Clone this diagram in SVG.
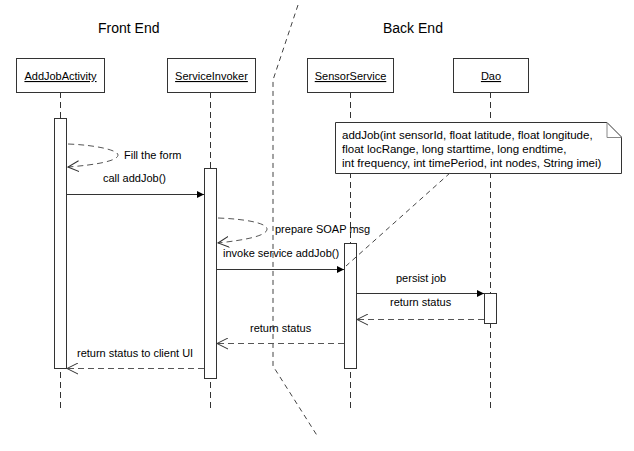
<svg xmlns="http://www.w3.org/2000/svg" width="634" height="451" viewBox="0 0 634 451">
<defs>
<marker id="filled" markerWidth="8" markerHeight="8" refX="7" refY="4" orient="auto" markerUnits="userSpaceOnUse">
<path d="M0,0.5 L7,4 L0,7.5 Z" fill="#000"/>
</marker>
<marker id="open" markerWidth="12" markerHeight="12" refX="11" refY="6" orient="auto" markerUnits="userSpaceOnUse">
<path d="M0,0.5 L11,6 L0,11.5" fill="none" stroke="#333" stroke-width="1"/>
</marker>
</defs>
<style>
text{font-family:"Liberation Sans",Arial,sans-serif;font-size:11px;fill:#000}
.title{font-size:14px}
.u{text-decoration:underline}
.note{font-size:11.5px}
.box{fill:#fff;stroke:#333;stroke-width:1}
.life{stroke:#333;stroke-width:1;stroke-dasharray:6,4;fill:none}
.msg{stroke:#333;stroke-width:1;fill:none}
.ret{stroke:#555;stroke-width:1;stroke-dasharray:6,4;fill:none}
.div{stroke:#444;stroke-width:1;stroke-dasharray:5,4;fill:none}
</style>
<rect width="634" height="451" fill="#fff"/>
<text class="title" x="98" y="33">Front End</text>
<text class="title" x="383" y="33">Back End</text>
<g id="divider"><polyline class="div" points="298,5 273,80 273,366 318,437"/></g>
<g id="lifelines">
<line class="life" x1="60.5" y1="92" x2="60.5" y2="410"/>
<line class="life" x1="210.5" y1="92" x2="210.5" y2="410"/>
<line class="life" x1="350.5" y1="92" x2="350.5" y2="410"/>
<line class="life" x1="490.5" y1="92" x2="490.5" y2="410"/>
</g>
<g id="AddJobActivity"><rect class="box" x="16.5" y="58.5" width="88" height="34"/><text class="u" x="60.5" y="80" text-anchor="middle">AddJobActivity</text></g>
<g id="ServiceInvoker"><rect class="box" x="167.5" y="58.5" width="88" height="34"/><text class="u" x="211.5" y="80" text-anchor="middle">ServiceInvoker</text></g>
<g id="SensorService"><rect class="box" x="307.5" y="58.5" width="86" height="34"/><text class="u" x="350.5" y="80" text-anchor="middle">SensorService</text></g>
<g id="Dao"><rect class="box" x="453.5" y="58.5" width="75" height="34"/><text class="u" x="491" y="80" text-anchor="middle">Dao</text></g>
<g id="activations">
<rect class="box" x="54.5" y="118.5" width="12" height="250"/>
<rect class="box" x="204.5" y="168.5" width="12" height="210"/>
<rect class="box" x="344.5" y="243.5" width="12" height="125"/>
<rect class="box" x="484.5" y="293.5" width="12" height="30"/>
</g>
<g id="note">
<path class="box" d="M335.5,122.5 H607 L621.5,137 V173.5 H335.5 Z" stroke="#888"/>
<path d="M607,122.5 V137.5 H621.5" fill="none" stroke="#888"/>
<text class="note" x="342" y="139">addJob(int sensorId, float latitude, float longitude,</text>
<text class="note" x="342" y="153">float locRange, long starttime, long endtime,</text>
<text class="note" x="342" y="167">int frequency, int timePeriod, int nodes, String imei)</text>
</g>
<g id="connectors">
<path class="ret" d="M68,144 C95,145 118,150 118,155 C118,161 95,165 68,167" marker-end="url(#open)"/>
<line class="msg" x1="67" y1="194.5" x2="204" y2="194.5" marker-end="url(#filled)"/>
<path class="ret" d="M218,218 C245,219 267,223 267,229 C267,236 245,240 218,243" marker-end="url(#open)"/>
<line class="msg" x1="217" y1="269.5" x2="344" y2="269.5" marker-end="url(#filled)"/>
<line class="msg" x1="357" y1="293.5" x2="484" y2="293.5" marker-end="url(#filled)"/>
<line class="ret" x1="484" y1="319.5" x2="357" y2="319.5" marker-end="url(#open)"/>
<line class="ret" x1="344" y1="343.5" x2="217" y2="343.5" marker-end="url(#open)"/>
<line class="ret" x1="204" y1="368.5" x2="67" y2="368.5" marker-end="url(#open)"/>
<line class="div" x1="450" y1="173" x2="346" y2="266" stroke="#222"/>
</g>
<g id="labels">
<text x="124" y="159">Fill the form</text>
<text x="103" y="182">call addJob()</text>
<text x="275" y="233">prepare SOAP msg</text>
<text x="223" y="257">invoke service addJob()</text>
<text x="396" y="282">persist job</text>
<text x="390" y="306">return status</text>
<text x="250" y="332">return status</text>
<text x="77" y="357">return status to client UI</text>
</g>
</svg>
